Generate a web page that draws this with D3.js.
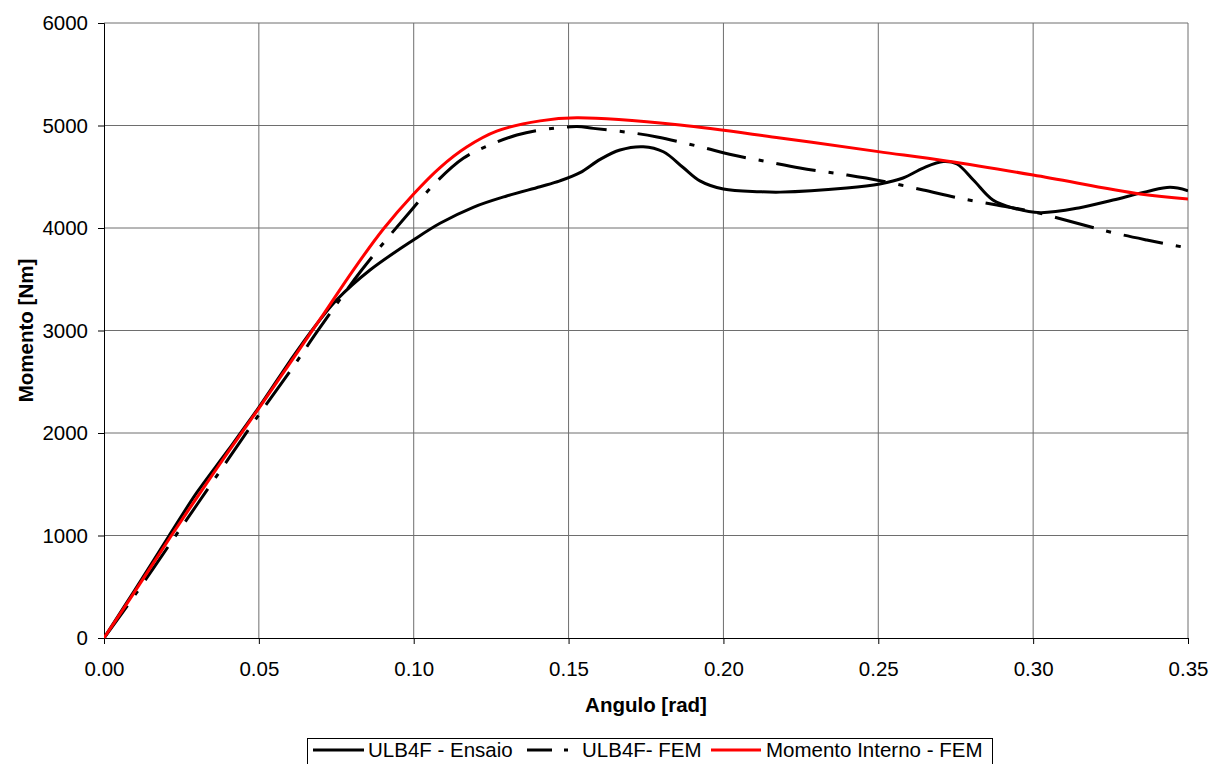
<!DOCTYPE html>
<html><head><meta charset="utf-8">
<script src="https://cdn.jsdelivr.net/npm/d3@7"></script>
<style>body{margin:0;background:#fff}svg{display:block;font-family:"Liberation Sans",Arial,sans-serif}</style>
</head><body><svg id="c" width="1212" height="764"></svg>
<script>
const xTicks = [0,0.05,0.10,0.15,0.20,0.25,0.30,0.35];
const yTicks = [0,1000,2000,3000,4000,5000,6000];
const seriesNames = ["ULB4F - Ensaio","ULB4F- FEM","Momento Interno - FEM"];
const ensaio = [[0,0],[0.01,470],[0.0208,988],[0.03,1420],[0.04,1830],[0.05,2250],[0.06,2700],[0.0676,3021],[0.0751,3298],[0.0859,3590],[0.0999,3883],[0.1085,4046],[0.1192,4202],[0.13,4312],[0.1408,4403],[0.1472,4460],[0.1537,4540],[0.1602,4670],[0.1666,4761],[0.1741,4793],[0.1806,4744],[0.187,4590],[0.1924,4460],[0.20,4380],[0.2118,4354],[0.2183,4350],[0.2398,4390],[0.2505,4430],[0.258,4488],[0.2645,4585],[0.271,4648],[0.2754,4624],[0.2807,4468],[0.287,4273],[0.2935,4195],[0.3022,4150],[0.3151,4198],[0.3258,4273],[0.3367,4355],[0.3442,4397],[0.35,4364]];
const fem = [[0,0],[0.01,420],[0.0229,988],[0.03,1300],[0.04,1740],[0.0504,2195],[0.0611,2647],[0.0692,3005],[0.0832,3590],[0.0988,4159],[0.1074,4452],[0.116,4680],[0.1246,4810],[0.1333,4907],[0.1408,4956],[0.1527,4990],[0.158,4972],[0.1708,4927],[0.1786,4888],[0.1924,4793],[0.2031,4712],[0.2141,4647],[0.2247,4585],[0.2398,4517],[0.2506,4461],[0.2645,4371],[0.2754,4296],[0.2883,4224],[0.30,4159],[0.3151,4039],[0.3258,3954],[0.3367,3883],[0.35,3805]];
const interno = [[0,0],[0.01,455],[0.0215,988],[0.03,1370],[0.04,1810],[0.05,2240],[0.06,2680],[0.07,3120],[0.0805,3590],[0.0902,3990],[0.0999,4330],[0.1085,4590],[0.1171,4790],[0.1268,4945],[0.1408,5045],[0.1527,5075],[0.186,5005],[0.2183,4878],[0.25,4745],[0.272,4654],[0.30,4517],[0.3345,4332],[0.35,4283]];

const L=104,R=1188,T=23,B=638,FS=20.5;
const svg=d3.select("#c");
const x=d3.scaleLinear().domain([0,0.35]).range([L,R]);
const y=d3.scaleLinear().domain([0,6000]).range([B,T]);

const g=svg.append("g");
g.selectAll("line.v").data(xTicks.slice(1)).join("line").attr("x1",d=>x(d)).attr("x2",d=>x(d)).attr("y1",T).attr("y2",B).attr("stroke","#6e6e6e").attr("stroke-width",1);
g.selectAll("line.h").data(yTicks.slice(1)).join("line").attr("x1",L).attr("x2",R).attr("y1",d=>y(d)).attr("y2",d=>y(d)).attr("stroke","#6e6e6e").attr("stroke-width",1);

const xa=svg.append("g").attr("transform",`translate(0,${B})`).call(d3.axisBottom(x).tickValues(xTicks).tickFormat(d3.format(".2f")).tickSize(6).tickPadding(17));
const ya=svg.append("g").attr("transform",`translate(${L},0)`).call(d3.axisLeft(y).tickValues(yTicks).tickFormat(d3.format("d")).tickSize(6).tickPadding(10));
[xa,ya].forEach(a=>{a.select(".domain").attr("stroke","#000");a.selectAll(".tick line").attr("stroke","#000");a.selectAll("text").attr("font-size",FS).attr("fill","#000").attr("font-family","Liberation Sans, Arial, sans-serif");});

svg.append("text").attr("x",646).attr("y",712).attr("text-anchor","middle").attr("font-size",FS).attr("font-weight","bold").text("Angulo [rad]");
svg.append("text").attr("transform",`translate(33,${(T+B)/2}) rotate(-90)`).attr("text-anchor","middle").attr("font-size",FS).attr("font-weight","bold").text("Momento [Nm]");

const line=d3.line().x(d=>x(d[0])).y(d=>y(d[1])).curve(d3.curveCatmullRom.alpha(0.5));
svg.append("clipPath").attr("id","cp").append("rect").attr("x",L).attr("y",T-3).attr("width",R-L).attr("height",B-T+6);
const pg=svg.append("g").attr("clip-path","url(#cp)");
pg.append("path").datum(ensaio).attr("d",line).attr("fill","none").attr("stroke","#000").attr("stroke-width",3);
pg.append("path").datum(fem).attr("d",line).attr("fill","none").attr("stroke","#000").attr("stroke-width",3).attr("stroke-dasharray","40,13,5,13");
pg.append("path").datum(interno).attr("d",line).attr("fill","none").attr("stroke","#ff0000").attr("stroke-width",3);

const lg=svg.append("g");
lg.append("rect").attr("x",307.5).attr("y",738.5).attr("width",685).attr("height",40).attr("fill","#fff").attr("stroke","#000").attr("stroke-width",1);
const items=[{n:seriesNames[0],c:"#000",d:null,x1:313,x2:364,tx:368},{n:seriesNames[1],c:"#000",d:"25,12,4,100",x1:527,x2:568,tx:582},{n:seriesNames[2],c:"#ff0000",d:null,x1:711,x2:761,tx:766}];
items.forEach(it=>{
  lg.append("line").attr("x1",it.x1).attr("x2",it.x2).attr("y1",750).attr("y2",750).attr("stroke",it.c).attr("stroke-width",3).attr("stroke-dasharray",it.d);
  lg.append("text").attr("x",it.tx).attr("y",757).attr("font-size",FS).text(it.n);
});
</script></body></html>
